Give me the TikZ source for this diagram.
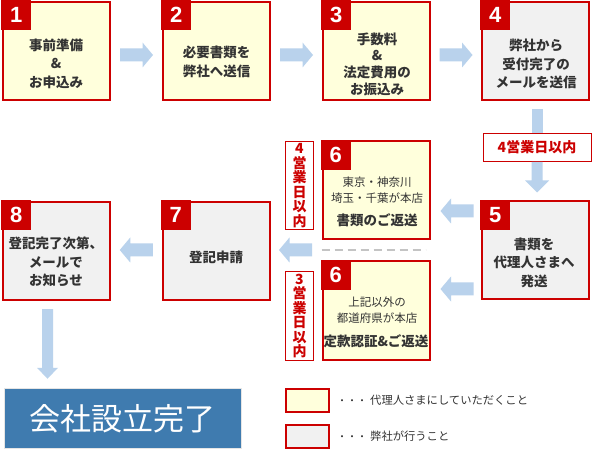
\documentclass[tikz,border=0pt]{standalone}
\usepackage{fontspec}
\setmainfont{Noto Sans CJK JP}
\newfontfamily\numfont{Liberation Sans}
\usetikzlibrary{calc}
\definecolor{kred}{HTML}{CC0000}
\definecolor{kyel}{HTML}{FFFFDC}
\definecolor{kgray}{HTML}{F1F1F1}
\definecolor{ktext}{HTML}{333333}
\definecolor{karrow}{HTML}{B9D2EC}
\definecolor{kblue}{HTML}{3F7BAF}
\definecolor{kdash}{HTML}{C4C4C4}
\tikzset{
  stepbox/.style={rectangle, draw=kred, line width=2pt, minimum width=107pt, minimum height=98pt, inner sep=0pt},
  yelbox/.style={stepbox, fill=kyel},
  graybox/.style={stepbox, fill=kgray},
  badge/.style={rectangle, fill=kred, minimum width=30pt, minimum height=30pt, inner sep=0pt, anchor=north west,
    text=white, font={\numfont\bfseries\fontsize{22}{22}\selectfont}},
  boxtext/.style={align=center, text=ktext, inner sep=0pt, font={\bfseries\fontsize{13.5}{18.5}\selectfont}},
  smalltext/.style={align=center, text=ktext, inner sep=0pt, font={\fontsize{11.5}{16}\selectfont}},
  daylabel/.style={rectangle, draw=kred, line width=1pt, fill=white, inner sep=0pt, align=center,
    text=kred, font={\bfseries\fontsize{14}{14.5}\selectfont}},
  arrowfill/.style={fill=karrow},
  legbox/.style={rectangle, draw=kred, line width=2pt, minimum width=43pt, minimum height=23pt, inner sep=0pt},
  legtext/.style={anchor=west, text=ktext, inner sep=0pt, font={\fontsize{11.3}{13}\selectfont}},
  harrow/.pic={\fill[arrowfill] (-16.5,-6.5) -- (6,-6.5) -- (6,-12.5) -- (16.5,0) -- (6,12.5) -- (6,6.5) -- (-16.5,6.5) -- cycle;}
}
\begin{document}
\begin{tikzpicture}[x=1pt,y=-1pt]
\useasboundingbox[fill=white] (0,0) rectangle (592,465);

% step boxes
\node[yelbox]  (b1) at (56.5,51) {};
\node[yelbox]  (b2) at (216.5,51) {};
\node[yelbox]  (b3) at (376.5,51) {};
\node[graybox] (b4) at (535.5,51) {};
\node[graybox] (b5) at (535.5,250.5) {};
\node[yelbox]  (b6a) at (376,190.5) {};
\node[yelbox]  (b6b) at (376,310.5) {};
\node[graybox] (b7) at (216,251) {};
\node[graybox] (b8) at (56.5,251) {};

% badges
\node[badge] (n1) at ($(b1.north west)+(-1,-1)$) {1};
\node[badge] (n2) at ($(b2.north west)+(-1,-1)$) {2};
\node[badge] (n3) at ($(b3.north west)+(-1,-1)$) {3};
\node[badge] (n4) at ($(b4.north west)+(-1,-1)$) {4};
\node[badge] (n5) at ($(b5.north west)+(-1,-1)$) {5};
\node[badge] (n6a) at ($(b6a.north west)+(-1,-1)$) {6};
\node[badge] (n6b) at ($(b6b.north west)+(-1,-1)$) {6};
\node[badge] (n7) at ($(b7.north west)+(-1,-1)$) {7};
\node[badge] (n8) at ($(b8.north west)+(-1,-1)$) {8};

% box texts
\node[boxtext] (t1) at (56,63.5) {事前準備\\\&\\お申込み};
\node[boxtext] (t2) at (216.5,62) {必要書類を\\弊社へ送信};
\node[boxtext, font={\bfseries\fontsize{13.5}{16.7}\selectfont}] (t3) at (377,64) {手数料\\\&\\法定費用の\\お振込み};
\node[boxtext] (t4) at (536,64) {弊社から\\受付完了の\\メールを送信};
\node[boxtext] (t5) at (534,262.5) {書類を\\代理人さまへ\\発送};
\node[smalltext] (t6a) at (377,190) {東京・神奈川\\埼玉・千葉が本店};
\node[boxtext] (t6ab) at (377,220) {書類のご返送};
\node[smalltext] (t6b) at (377,310) {上記以外の\\都道府県が本店};
\node[boxtext] (t6bb) at (376,341) {定款認証\&ご返送};
\node[boxtext] (t7) at (216,257) {登記申請};
\node[boxtext] (t8) at (56,262) {登記完了次第、\\メールで\\お知らせ};

% day labels
\node[daylabel, minimum width=108pt, minimum height=28pt] (lab4) at (537,147.5) {4営業日以内};
\node[daylabel, minimum width=28pt, minimum height=88pt] (v1) at (299.5,185.5) {4\\営\\業\\日\\以\\内};
\node[daylabel, minimum width=28pt, minimum height=89pt] (v2) at (299.5,316) {3\\営\\業\\日\\以\\内};

% dashed separator
\coordinate (dsA) at ($(b6a.south west)+(0,9.5)$);
\coordinate (dsB) at ($(b6a.south east)+(-5,9.5)$);
\draw[kdash, line width=2pt, dash pattern=on 8pt off 5pt] (dsA) -- (dsB);

% horizontal block arrows
\pic at ($(b1.east)!0.5!(b2.west)+(0,4)$) {harrow};
\pic at ($(b2.east)!0.5!(b3.west)+(0,4)$) {harrow};
\pic at ($(b3.east)!0.5!(b4.west)+(0,4)$) {harrow};
\pic[rotate=180] at ($(b5.west)+(-24,-39.5)$) {harrow};
\pic[rotate=180] at ($(b5.west)+(-24,38.5)$) {harrow};
\pic[rotate=180] at ($(b7.east)+(25,-1)$) {harrow};
\pic[rotate=180] at ($(b8.east)!0.5!(b7.west)+(0,-1)$) {harrow};

% vertical arrow 4 -> 5 (interrupted by label)
\fill[arrowfill] let \p1=(b4.south), \p2=(lab4.north) in (\x1-4,\y1-8) rectangle (\x1+7,\y2);
\fill[arrowfill] let \p1=(lab4.south), \p2=(b5.north) in
  (\x1-5.5,\y1) -- (\x1-5.5,\y2+20) -- (\x1-12,\y2+20) -- (\x1,\y2+8) -- (\x1+12,\y2+20) -- (\x1+5.5,\y2+20) -- (\x1+5.5,\y1) -- cycle;

% final box
\node[rectangle, fill=kblue, draw=black!10, line width=1.5pt, minimum width=237pt, minimum height=60pt, inner sep=0pt,
  text=white, font={\fontsize{31}{31}\selectfont}] (done) at (123,418.5) {会社設立完了};

% vertical arrow 8 -> done
\fill[arrowfill] let \p1=(b8.south), \p2=(done.north) in
  (\x1-14.5,\y1-8) -- (\x1-14.5,\y2+20) -- (\x1-19.5,\y2+20) -- (\x1-9,\y2+9) -- (\x1+1.5,\y2+20) -- (\x1-3.5,\y2+20) -- (\x1-3.5,\y1-8) -- cycle;

% legend
\node[legbox, fill=kyel] (lg1) at (307.5,400.5) {};
\node[legbox, fill=kgray] (lg2) at (307.5,436) {};
\node[legtext] (lt1) at (337,400) {{\fontsize{10}{10}\selectfont ・・・}\hspace{3pt}代理人さまにしていただくこと};
\node[legtext] (lt2) at (337,436) {{\fontsize{10}{10}\selectfont ・・・}\hspace{3pt}弊社が行うこと};
\end{tikzpicture}
\end{document}
